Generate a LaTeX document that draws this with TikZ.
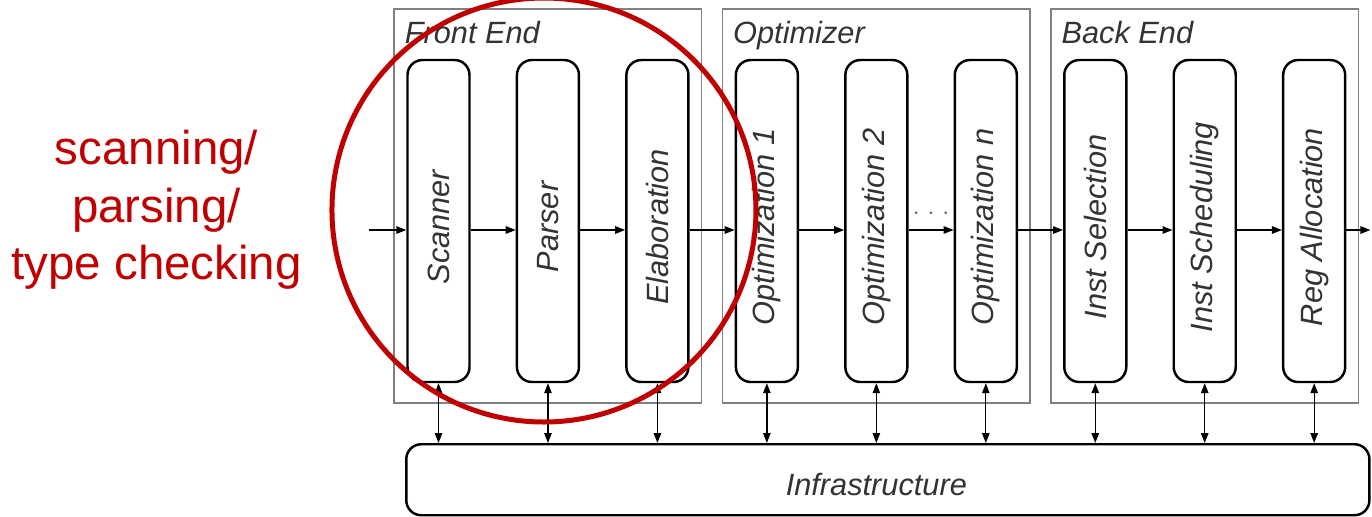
\documentclass[tikz,border=0pt]{standalone}
\usepackage{fontspec}
\setmainfont{Liberation Sans}
\usetikzlibrary{positioning, fit, calc, arrows.meta}

\definecolor{hlred}{HTML}{C00000}
\newcommand{\vlabel}[1]{\rotatebox{90}{#1\hspace*{2.4mm}}}

\begin{document}
\begin{tikzpicture}[
  node distance=9.0mm,
  stage/.style={draw, line width=1.4pt, rounded corners=3mm, inner sep=0pt,
                minimum width=12.4mm, minimum height=64.4mm,
                font=\itshape\fontsize{17.5}{21}\selectfont, text=black!80},
  group/.style={draw=black!50, line width=0.9pt, inner xsep=2.4mm, inner ysep=0pt},
  grouplabel/.style={anchor=base west, inner sep=0pt,
                     font=\itshape\fontsize{17.5}{21}\selectfont, text=black!80},
  infra/.style={draw, line width=1.4pt, rounded corners=3mm, inner sep=0pt},
  flow/.style={-{Triangle[length=2mm,width=1.5mm]}, line width=0.7pt},
  link/.style={{Triangle[length=2mm,width=1.5mm]}-{Triangle[length=2mm,width=1.5mm]}, line width=0.7pt},
  ring/.style={circle, draw=hlred, line width=1mm, minimum size=84.8mm, inner sep=0pt},
  remark/.style={text=hlred, align=center, inner sep=0pt, font=\fontsize{27}{32.7}\selectfont}
]
\useasboundingbox (0,0) rectangle (274.4mm,-103.2mm);

% the nine passes
\node[stage] (scan) at (87.7mm,-44.2mm) {\vlabel{Scanner}};
\node[stage, right=of scan]   (parse)  {\vlabel{Parser}};
\node[stage, right=of parse]  (elab)   {\vlabel{Elaboration}};
\node[stage, right=of elab]   (opt1)   {\vlabel{Optimization 1}};
\node[stage, right=of opt1]   (opt2)   {\vlabel{Optimization 2}};
\node[stage, right=of opt2]   (optn)   {\vlabel{Optimization n}};
\node[stage, right=of optn]   (isel)   {\vlabel{Inst Selection}};
\node[stage, right=of isel]   (isched) {\vlabel{Inst Scheduling}};
\node[stage, right=of isched] (ralloc) {\vlabel{Reg Allocation}};

% phase frames: room for the title above, a little below
\foreach \n in {scan, opt1, isel}
  \coordinate (\n-top) at ([yshift=10mm]\n.north);
\foreach \n in {elab, optn, ralloc}
  \coordinate (\n-bot) at ([yshift=-4mm]\n.south);
\node[group, fit=(scan)(elab)(scan-top)(elab-bot)]      (front)  {};
\node[group, fit=(opt1)(optn)(opt1-top)(optn-bot)]      (middle) {};
\node[group, fit=(isel)(ralloc)(isel-top)(ralloc-bot)]  (back)   {};
\node[grouplabel] (frontlbl)  at ([xshift=2.2mm,yshift=-7.2mm]front.north west)  {Front End};
\node[grouplabel] (middlelbl) at ([xshift=2.2mm,yshift=-7.2mm]middle.north west) {Optimizer};
\node[grouplabel] (backlbl)   at ([xshift=2.2mm,yshift=-7.2mm]back.north west)   {Back End};

\node[font=\fontsize{13}{13}\selectfont, text=black!60] (more)
  at ($(opt2.east)!.5!(optn.west)+(0,1.6mm)$) {. . .};

% pipeline
\coordinate (in)  at ([xshift=-7.4mm,yshift=-1.8mm]scan.west);
\coordinate (out) at ([xshift=4.8mm,yshift=-1.8mm]ralloc.east);
\draw[flow] (in) -- ([yshift=-1.8mm]scan.west);
\foreach \a/\b in {scan/parse, parse/elab, elab/opt1, opt1/opt2, opt2/optn,
                   optn/isel, isel/isched, isched/ralloc}
  \draw[flow] ([yshift=-1.8mm]\a.east) -- ([yshift=-1.8mm]\b.west);
\draw[flow] ([yshift=-1.8mm]ralloc.east) -- (out);

% shared infrastructure
\coordinate (infra-nw) at ([yshift=-12.2mm]scan.south west);
\coordinate (infra-se) at ([xshift=4.6mm,yshift=-26.4mm]ralloc.south east);
\node[infra, fit=(infra-nw)(infra-se)] (infra) {};
\node[font=\itshape\fontsize{17.5}{21}\selectfont, text=black!80] (infratext)
  at ([yshift=-1mm]infra.center -| opt2) {Infrastructure};
\foreach \s in {scan, parse, elab, opt1, opt2, optn, isel, isched, ralloc}
  \draw[link] (\s.south) -- (\s.south |- infra.north);

% front end highlight
\node[ring] (hl) at ([xshift=-0.8mm,yshift=2.2mm]parse.center) {};
\node[remark, left=5.5mm of hl] (focus) {scanning/\\parsing/\\type checking};

\end{tikzpicture}
\end{document}
